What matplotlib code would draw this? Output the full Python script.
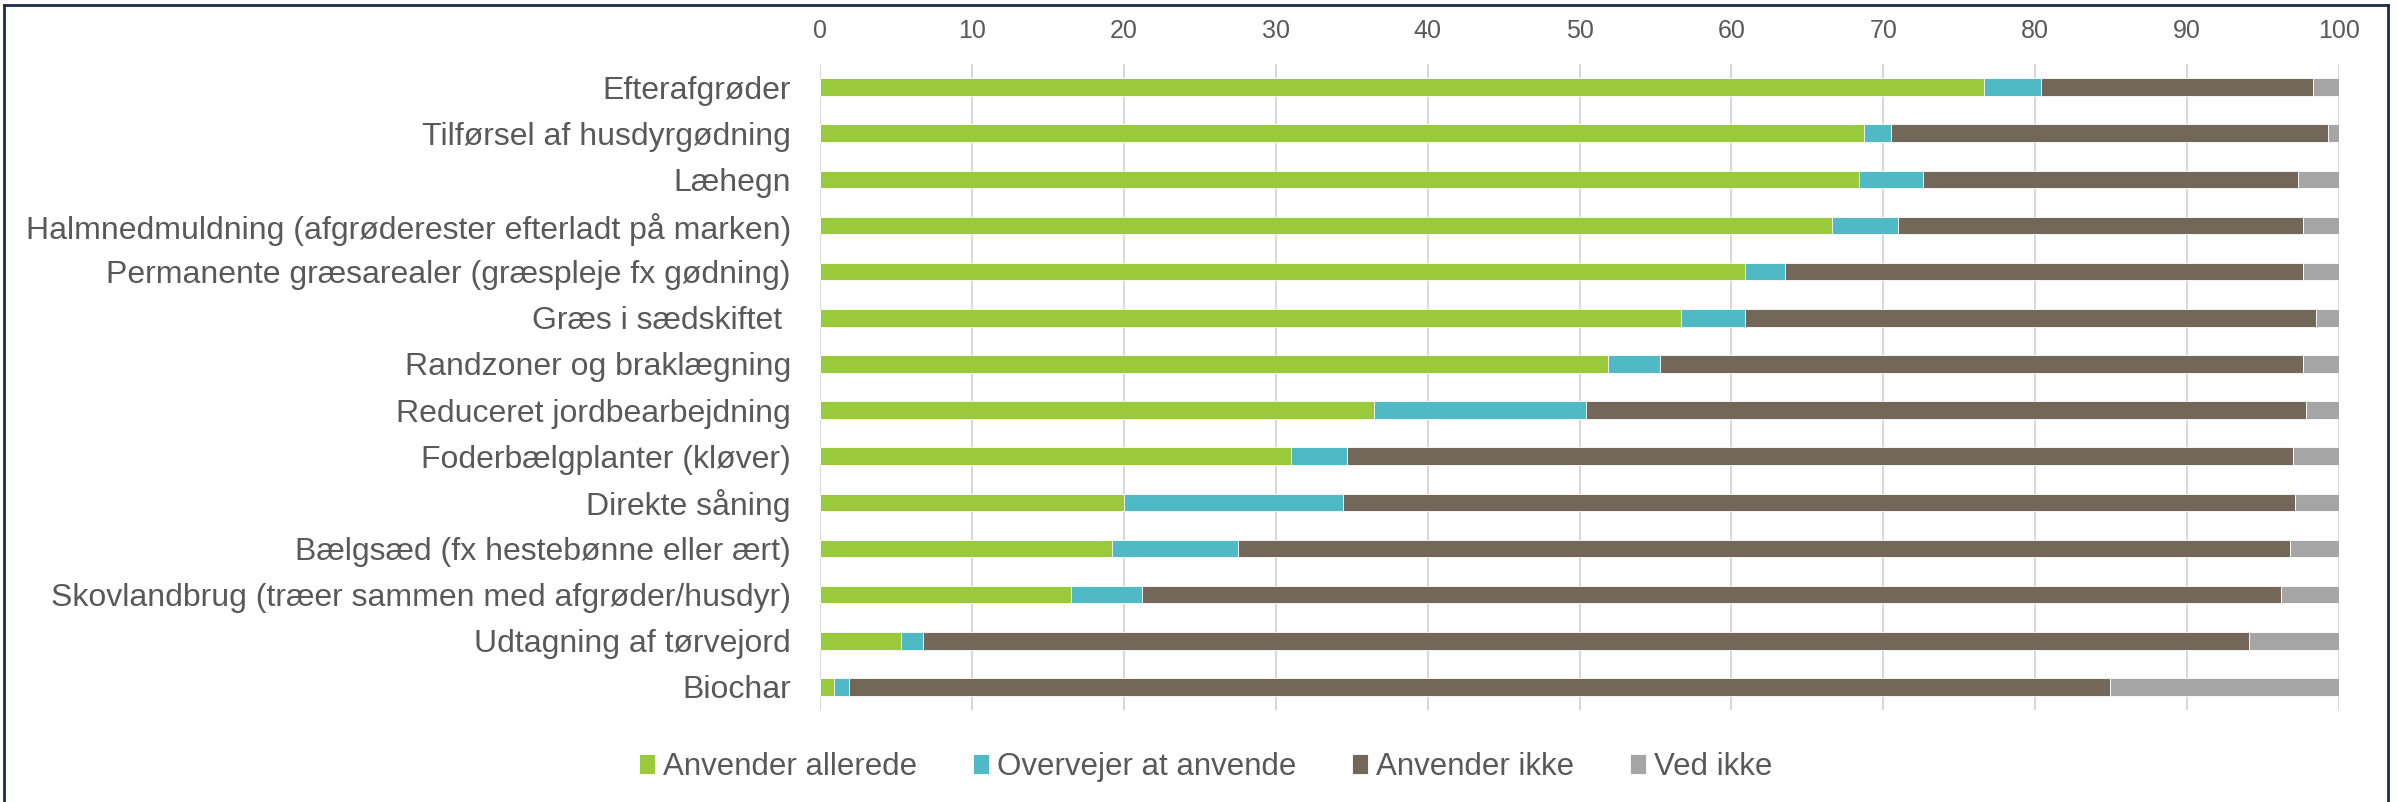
import numpy as np
import matplotlib.pyplot as plt

plt.rcParams['font.family'] = ['Liberation Sans', 'DejaVu Sans']

# --- Data (percent of respondents) ---
categories = [
    "Efterafgrøder",
    "Tilførsel af husdyrgødning",
    "Læhegn",
    "Halmnedmuldning (afgrøderester efterladt på marken)",
    "Permanente græsarealer (græspleje fx gødning)",
    "Græs i sædskiftet ",
    "Randzoner og braklægning",
    "Reduceret jordbearbejdning",
    "Foderbælgplanter (kløver)",
    "Direkte såning",
    "Bælgsæd (fx hestebønne eller ært)",
    "Skovlandbrug (træer sammen med afgrøder/husdyr)",
    "Udtagning af tørvejord",
    "Biochar",
]
anvender_allerede = [76.6, 68.7, 68.4, 66.6, 60.9, 56.7, 51.9, 36.5, 31.0, 20.0, 19.2, 16.5, 5.3, 0.9]
overvejer = [3.8, 1.8, 4.2, 4.4, 2.6, 4.2, 3.4, 13.9, 3.7, 14.4, 8.3, 4.7, 1.5, 1.0]
anvender_ikke = [17.9, 28.8, 24.7, 26.6, 34.1, 37.6, 42.3, 47.4, 62.3, 62.7, 69.3, 75.0, 87.3, 83.0]
ved_ikke = [1.7, 0.7, 2.7, 2.4, 2.4, 1.5, 2.4, 2.2, 3.0, 2.9, 3.2, 3.8, 5.9, 15.1]

series = [
    ("Anvender allerede", anvender_allerede, "#9BC93C"),
    ("Overvejer at anvende", overvejer, "#4FBAC5"),
    ("Anvender ikke", anvender_ikke, "#736759"),
    ("Ved ikke", ved_ikke, "#A5A5A5"),
]

fig = plt.figure(figsize=(23.97, 8.02), dpi=100)
ax = fig.add_axes([820/2397, 1 - 710/802, (2339 - 820)/2397, (710 - 64)/802])

y = np.arange(len(categories))
left = np.zeros(len(categories))
for name, vals, col in series:
    vals = np.array(vals)
    ax.barh(y, vals, left=left, height=0.38, color=col, edgecolor='white',
            linewidth=0.6, label=name, zorder=3)
    left += vals

ax.set_xlim(0, 100)
ax.set_ylim(len(categories) - 0.5, -0.5)
ax.set_yticks(y)
ax.set_yticklabels(categories)
ax.set_xticks(np.arange(0, 101, 10))

ax.xaxis.tick_top()
ax.tick_params(axis='x', length=0, pad=15, labelsize=18, labelcolor='#595959')
ax.tick_params(axis='y', length=0, pad=21, labelsize=23, labelcolor='#595959')
ax.grid(axis='x', color='#D9D9D9', linewidth=1.5, zorder=0)
for s in ax.spines.values():
    s.set_visible(False)

fig.legend(loc='center', bbox_to_anchor=(0.503, 1 - 767/802), ncol=4, frameon=False,
           fontsize=22.5, handlelength=0.5, handleheight=0.6, handletextpad=0.25,
           columnspacing=1.8, labelcolor='#595959')

# outer frame (no bottom edge, as in the original)
frame_col = '#1F2A4F'
fig.add_artist(plt.Line2D([4/2397, 4/2397], [0, 1 - 5/802], transform=fig.transFigure,
                          color=frame_col, linewidth=2))
fig.add_artist(plt.Line2D([4/2397, 2388/2397], [1 - 5/802, 1 - 5/802], transform=fig.transFigure,
                          color=frame_col, linewidth=2))
fig.add_artist(plt.Line2D([2388/2397, 2388/2397], [0, 1 - 5/802], transform=fig.transFigure,
                          color=frame_col, linewidth=2))

fig.savefig("out.png", dpi=100)
